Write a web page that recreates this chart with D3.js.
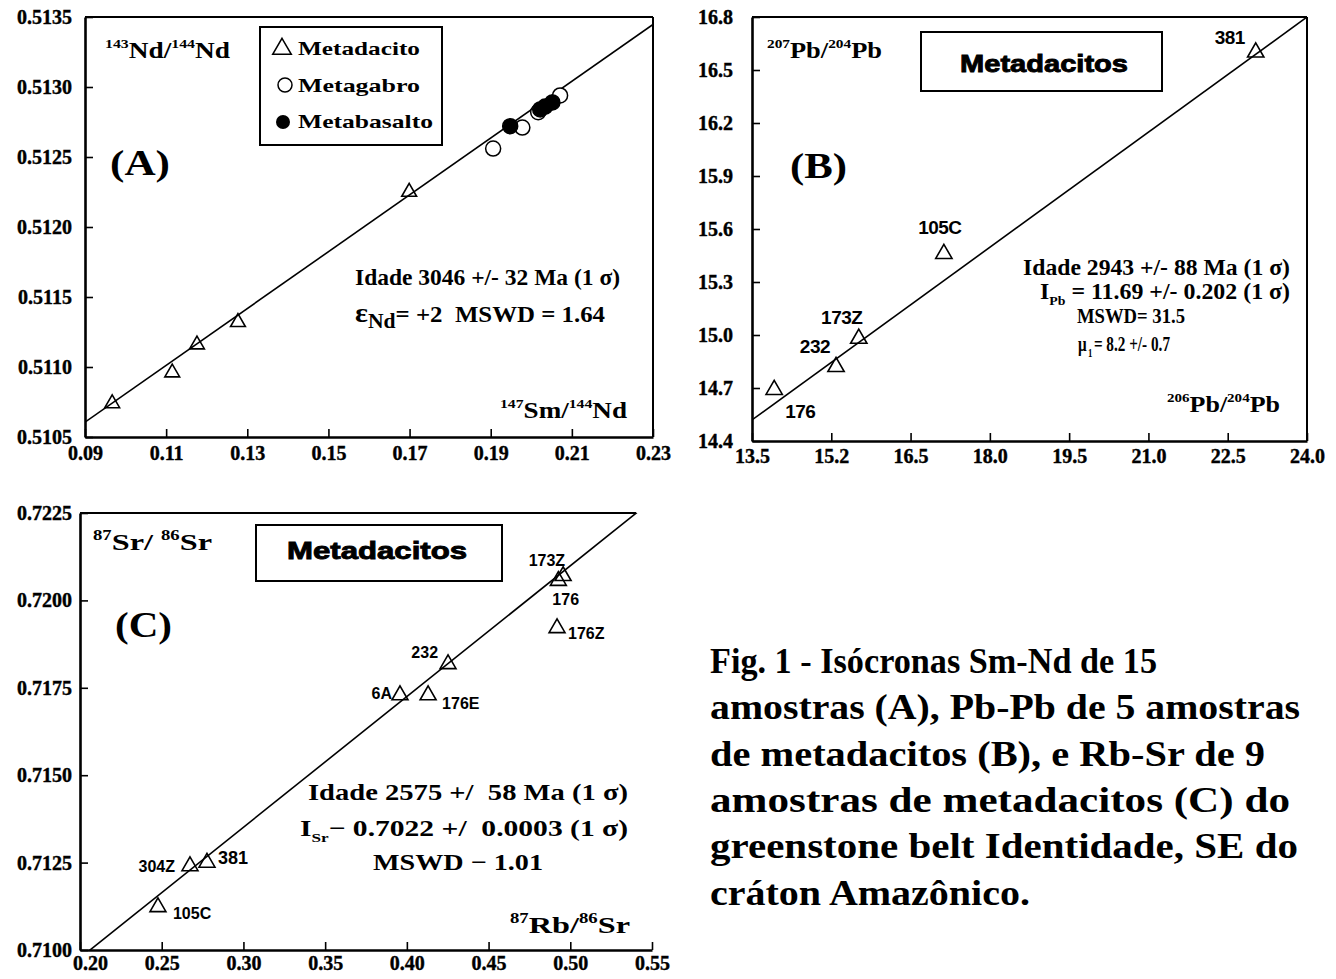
<!DOCTYPE html>
<html>
<head>
<meta charset="utf-8">
<script src="https://cdn.jsdelivr.net/npm/d3@7"></script>
<style>
body { margin: 0; background: #fff; }
svg { display: block; }
text { font-family: "Liberation Serif", "Times New Roman", serif; font-weight: bold; fill: #000; }
</style>
</head>
<body>
<script>
// ---- (A) Sm-Nd ----
var ndTicksX = [0.09, 0.11, 0.13, 0.15, 0.17, 0.19, 0.21, 0.23];
var ndTickLabelsX = ["0.09", "0.11", "0.13", "0.15", "0.17", "0.19", "0.21", "0.23"];
var ndTicksY = [0.5105, 0.5110, 0.5115, 0.5120, 0.5125, 0.5130, 0.5135];
var ndTickLabelsY = ["0.5105", "0.5110", "0.5115", "0.5120", "0.5125", "0.5130", "0.5135"];
var dacitoSm = [0.0967, 0.1115, 0.1176, 0.1277, 0.1699];
var dacitoNd = [0.51074, 0.51096, 0.51116, 0.51132, 0.51225];
var gabroSm = [0.1906, 0.1978, 0.2017, 0.2071];
var gabroNd = [0.51256, 0.51271, 0.51282, 0.51294];
var basaltoSm = [0.1948, 0.2022, 0.2034, 0.2052];
var basaltoNd = [0.51272, 0.51284, 0.51286, 0.51289];
var ndIsochron = [0.50878, 0.02029]; // intercept, slope

// ---- (B) Pb-Pb ----
var pbTicksX = [13.5, 15.0, 16.5, 18.0, 19.5, 21.0, 22.5, 24.0];
var pbTickLabelsX = ["13.5", "15.2", "16.5", "18.0", "19.5", "21.0", "22.5", "24.0"];
var pbTicksY = [14.4, 14.7, 15.0, 15.3, 15.6, 15.9, 16.2, 16.5, 16.8];
var pbTickLabelsY = ["14.4", "14.7", "15.0", "15.3", "15.6", "15.9", "16.2", "16.5", "16.8"];
var pbSamples = ["176", "232", "173Z", "105C", "381"];
var pb206 = [13.92, 15.09, 15.52, 17.13, 23.03];
var pb207 = [14.69, 14.82, 14.98, 15.46, 16.60];
var pbIsochron = [11.587, 0.2172];

// ---- (C) Rb-Sr ----
var srTicksX = [0.20, 0.25, 0.30, 0.35, 0.40, 0.45, 0.50, 0.55];
var srTickLabelsX = ["0.20", "0.25", "0.30", "0.35", "0.40", "0.45", "0.50", "0.55"];
var srTicksY = [0.7100, 0.7125, 0.7150, 0.7175, 0.7200, 0.7225];
var srTickLabelsY = ["0.7100", "0.7125", "0.7150", "0.7175", "0.7200", "0.7225"];
var srSamples = ["105C", "304Z", "381", "6A", "176E", "232", "173Z", "176", "176Z"];
var rb87 = [0.2477, 0.2673, 0.2777, 0.3958, 0.4130, 0.4252, 0.4956, 0.4927, 0.4919];
var sr87 = [0.71123, 0.71240, 0.71250, 0.71729, 0.71729, 0.71818, 0.72070, 0.72056, 0.71921];
var srIsochron = [0.70229, 0.0374];

var captionLines = [
  "Fig. 1 - Isócronas Sm-Nd de 15",
  "amostras (A), Pb-Pb de 5 amostras",
  "de metadacitos (B), e Rb-Sr de 9",
  "amostras de metadacitos (C) do",
  "greenstone belt Identidade, SE do",
  "cráton Amazônico."
];

var width = 1336, height = 979;
var svg = d3.select("body").append("svg")
    .attr("width", width)
    .attr("height", height);

// rich text with sup / sub parts
function rich(g, x, y, parts, o) {
    var t = g.append("text")
        .attr("x", x).attr("y", y)
        .attr("font-size", o.size)
        .attr("text-anchor", o.anchor || "start")
        .style("white-space", "pre");
    if (o.family) t.style("font-family", o.family);
    if (o.len) t.attr("textLength", o.len).attr("lengthAdjust", "spacingAndGlyphs");
    var shift = 0;
    parts.forEach(function (p) {
        var s = typeof p === "string" ? { t: p } : p;
        var want = s.sup ? -o.size * 0.42 : s.sub ? o.size * 0.28 : 0;
        var sp = t.append("tspan").text(s.t).attr("dy", want - shift);
        if (s.dx) sp.attr("dx", s.dx);
        if (s.sup || s.sub) sp.attr("font-size", s.size || o.size * 0.58);
        else if (s.size) sp.attr("font-size", s.size);
        shift = want;
    });
    return t;
}

function panel(box, xd, yd, id) {
    var g = svg.append("g");
    var x = d3.scaleLinear().domain(xd).range([box[0], box[2]]);
    var y = d3.scaleLinear().domain(yd).range([box[3], box[1]]);
    g.append("clipPath").attr("id", "clip" + id)
        .append("rect").attr("x", box[0]).attr("y", box[1])
        .attr("width", box[2] - box[0]).attr("height", box[3] - box[1]);
    return { g: g, x: x, y: y, box: box, id: id };
}

function axes(p, xt, xl, yt, yl, xpad, ypad) {
    var ax = p.g.append("g")
        .attr("class", "xaxis")
        .attr("transform", "translate(0," + p.box[3] + ")")
        .call(d3.axisBottom(p.x).tickValues(xt)
            .tickFormat(function (d, i) { return xl[i]; })
            .tickSizeInner(-8).tickSizeOuter(0).tickPadding(xpad));
    var ay = p.g.append("g")
        .attr("transform", "translate(" + p.box[0] + ",0)")
        .call(d3.axisLeft(p.y).tickValues(yt)
            .tickFormat(function (d, i) { return yl[i]; })
            .tickSizeInner(-8).tickSizeOuter(0).tickPadding(ypad));
    [ax, ay].forEach(function (a) {
        a.attr("font-family", null).attr("font-size", null);
        a.select(".domain").attr("stroke", "#000").attr("stroke-width", 2.6);
        a.selectAll(".tick line").attr("stroke", "#000").attr("stroke-width", 1.6);
        a.selectAll(".tick text").attr("font-size", 20).attr("fill", "#000")
            .attr("stroke", "#000").attr("stroke-width", 0.4);
    });
    return ax;
}

function isochron(p, coef) {
    var xd = p.x.domain();
    p.g.append("line")
        .attr("clip-path", "url(#clip" + p.id + ")")
        .attr("x1", p.x(xd[0])).attr("y1", p.y(coef[0] + coef[1] * xd[0]))
        .attr("x2", p.x(xd[1])).attr("y2", p.y(coef[0] + coef[1] * xd[1]))
        .attr("stroke", "#000").attr("stroke-width", 1.6);
}

var tri = function (s) { return d3.symbol().type(d3.symbolTriangle).size(s)(); };

function triangles(p, xs, ys, s) {
    p.g.selectAll(null).data(xs).enter().append("path")
        .attr("d", tri(s))
        .attr("transform", function (d, i) { return "translate(" + p.x(d) + "," + p.y(ys[i]) + ")"; })
        .attr("fill", "none").attr("stroke", "#000").attr("stroke-width", 1.6);
}

function boxTitle(g, b, tx, ty, len) {
    g.append("rect").attr("x", b[0]).attr("y", b[1])
        .attr("width", b[2] - b[0]).attr("height", b[3] - b[1])
        .attr("fill", "none").attr("stroke", "#000").attr("stroke-width", 2);
    g.append("text").attr("x", tx).attr("y", ty)
        .attr("font-size", 24)
        .style("font-family", "'Liberation Sans', Arial, sans-serif")
        .attr("stroke", "#000").attr("stroke-width", 0.9)
        .attr("textLength", len).attr("lengthAdjust", "spacingAndGlyphs")
        .text("Metadacitos");
}

function frameTop(p, xEnd) {
    p.g.append("line").attr("x1", p.box[0]).attr("x2", xEnd)
        .attr("y1", p.box[1]).attr("y2", p.box[1])
        .attr("stroke", "#000").attr("stroke-width", 2);
}
function frameRight(p) {
    p.g.append("line").attr("x1", p.box[2]).attr("x2", p.box[2])
        .attr("y1", p.box[1]).attr("y2", p.box[3])
        .attr("stroke", "#000").attr("stroke-width", 2);
}

// ================= (A) =================
var A = panel([85, 17, 653, 437], [0.09, 0.23], [0.5105, 0.5135], "A");
frameTop(A, A.box[2]);
frameRight(A);
isochron(A, ndIsochron);
axes(A, ndTicksX, ndTickLabelsX, ndTicksY, ndTickLabelsY, 9, 13);
triangles(A, dacitoSm, dacitoNd, 95);
A.g.selectAll(null).data(gabroSm).enter().append("circle")
    .attr("cx", function (d) { return A.x(d); })
    .attr("cy", function (d, i) { return A.y(gabroNd[i]); })
    .attr("r", 7.5).attr("fill", "#fff").attr("stroke", "#000").attr("stroke-width", 1.5);
A.g.selectAll(null).data(basaltoSm).enter().append("circle")
    .attr("cx", function (d) { return A.x(d); })
    .attr("cy", function (d, i) { return A.y(basaltoNd[i]); })
    .attr("r", 7.5).attr("fill", "#000").attr("stroke", "#000").attr("stroke-width", 1.5);

// legend
var leg = A.g.append("g");
leg.append("rect").attr("x", 260).attr("y", 27).attr("width", 182).attr("height", 118)
    .attr("fill", "#fff").attr("stroke", "#000").attr("stroke-width", 2);
leg.append("path").attr("d", tri(150)).attr("transform", "translate(282,49)")
    .attr("fill", "none").attr("stroke", "#000").attr("stroke-width", 1.5);
leg.append("circle").attr("cx", 285).attr("cy", 85).attr("r", 7)
    .attr("fill", "#fff").attr("stroke", "#000").attr("stroke-width", 1.5);
leg.append("circle").attr("cx", 283).attr("cy", 122).attr("r", 7).attr("fill", "#000");
[["Metadacito", 55, 122], ["Metagabro", 92, 122], ["Metabasalto", 128, 135]].forEach(function (r) {
    leg.append("text").attr("x", 298).attr("y", r[1]).attr("font-size", 19)
        .attr("textLength", r[2]).attr("lengthAdjust", "spacingAndGlyphs").text(r[0]);
});

rich(A.g, 105, 58, [{ t: "143", sup: 1 }, "Nd/", { t: "144", sup: 1 }, "Nd"], { size: 23, len: 125 });
rich(A.g, 110, 175, ["(A)"], { size: 35, len: 60 });
rich(A.g, 355, 285, ["Idade 3046 +/- 32 Ma (1 σ)"], { size: 23, len: 265 });
rich(A.g, 355, 322, [{ t: "ε", size: 28 }, { t: "Nd", sub: 1, size: 20 }, "= +2  MSWD = 1.64"], { size: 23, len: 250 });
rich(A.g, 500, 418, [{ t: "147", sup: 1 }, "Sm/", { t: "144", sup: 1 }, "Nd"], { size: 23, len: 127 });

// ================= (B) =================
var B = panel([752, 17, 1307, 441], [13.5, 24.0], [14.4, 16.8], "B");
frameTop(B, B.box[2]);
frameRight(B);
isochron(B, pbIsochron);
axes(B, pbTicksX, pbTickLabelsX, pbTicksY, pbTickLabelsY, 8, 19);
triangles(B, pb206, pb207, 115);
var pbLab = [[11, 28, "start"], [-6, -14, "end"], [-17, -15, "middle"], [-4, -20, "middle"], [-26, -8, "middle"]];
B.g.selectAll(null).data(pbSamples).enter().append("text")
    .attr("x", function (d, i) { return B.x(pb206[i]) + pbLab[i][0]; })
    .attr("y", function (d, i) { return B.y(pb207[i]) + pbLab[i][1]; })
    .attr("text-anchor", function (d, i) { return pbLab[i][2]; })
    .attr("font-size", 19)
    .style("font-family", "'Liberation Sans', Arial, sans-serif")
    .attr("letter-spacing", -0.5)
    .text(function (d) { return d; });

boxTitle(B.g, [921, 32, 1162, 91], 960, 72, 168);
rich(B.g, 767, 58, [{ t: "207", sup: 1 }, "Pb/", { t: "204", sup: 1 }, "Pb"], { size: 23, len: 115 });
rich(B.g, 790, 178, ["(B)"], { size: 35, len: 57 });
rich(B.g, 1023, 275, ["Idade 2943 +/- 88 Ma (1 σ)"], { size: 23, len: 267 });
rich(B.g, 1040, 299, ["I", { t: "Pb", sub: 1 }, " = 11.69 +/- 0.202 (1 σ)"], { size: 23, len: 250 });
rich(B.g, 1077, 323, ["MSWD= 31.5"], { size: 22, len: 108 });
rich(B.g, 1078, 351, ["μ", { t: "1", sub: 1, size: 12, dx: 2 }, { t: "= 8.2 +/- 0.7", dx: 2 }], { size: 21, len: 92 });
rich(B.g, 1167, 412, [{ t: "206", sup: 1 }, "Pb/", { t: "204", sup: 1 }, "Pb"], { size: 23, len: 113 });

// ================= (C) =================
var C = panel([80, 513, 652, 950], [0.20, 0.55], [0.7100, 0.7225], "C");
frameTop(C, C.x((C.y.domain()[1] - srIsochron[0]) / srIsochron[1]));
isochron(C, srIsochron);
var cx = axes(C, srTicksX, srTickLabelsX, srTicksY, srTickLabelsY, 6, 8);
cx.select(".tick text").attr("dx", 10);
triangles(C, rb87, sr87, 110);
var srLab = [[15, 12, "start"], [-15, 6, "end"], [11, 1, "start"], [-8, 4, "end"], [14, 14, "start"],
             [-10, -6, "end"], [2, -10, "end"], [-6, 24, "start"], [11, 11, "start"]];
C.g.selectAll(null).data(srSamples).enter().append("text")
    .attr("x", function (d, i) { return C.x(rb87[i]) + srLab[i][0]; })
    .attr("y", function (d, i) { return C.y(sr87[i]) + srLab[i][1]; })
    .attr("text-anchor", function (d, i) { return srLab[i][2]; })
    .attr("font-size", function (d) { return d === "381" ? 18 : 16; })
    .style("font-family", "'Liberation Sans', Arial, sans-serif")
    .text(function (d) { return d; });

boxTitle(C.g, [256, 525, 502, 581], 287, 559, 180);
rich(C.g, 93, 550, [{ t: "87", sup: 1 }, "Sr/ ", { t: "86", sup: 1 }, "Sr"], { size: 24, len: 119 });
rich(C.g, 115, 637, ["(C)"], { size: 35, len: 57 });
rich(C.g, 308, 800, ["Idade 2575 +/  58 Ma (1 σ)"], { size: 23, len: 320 });
rich(C.g, 300, 836, ["I", { t: "Sr", sub: 1 }, "− 0.7022 +/  0.0003 (1 σ)"], { size: 23, len: 328 });
rich(C.g, 373, 870, ["MSWD − 1.01"], { size: 23, len: 170 });
rich(C.g, 510, 933, [{ t: "87", sup: 1 }, "Rb/", { t: "86", sup: 1 }, "Sr"], { size: 24, len: 120 });

// ================= caption =================
var capLen = [447, 590, 555, 580, 588, 320];
svg.append("g").selectAll("text").data(captionLines).enter().append("text")
    .attr("x", 710)
    .attr("y", function (d, i) { return 673 + i * 46.3; })
    .attr("font-size", 36)
    .style("font-weight", "600")
    .attr("textLength", function (d, i) { return capLen[i]; })
    .attr("lengthAdjust", "spacingAndGlyphs")
    .attr("fill", "#111")
    .text(function (d) { return d; });
</script>
</body>
</html>
